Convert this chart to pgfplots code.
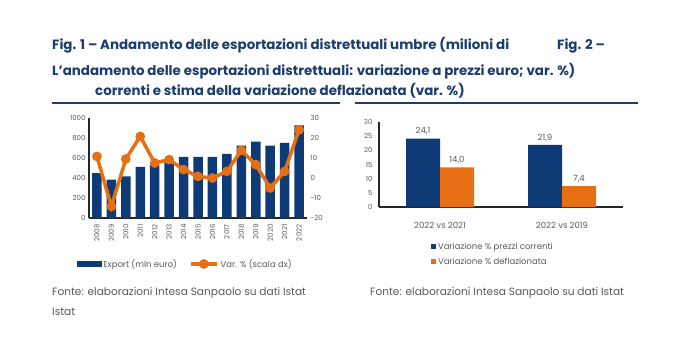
\documentclass[border=0pt]{standalone}
\usepackage{pgfplots}
\pgfplotsset{compat=1.18}
\usepackage{fontspec}
\setmainfont{Poppins}
\definecolor{navy}{HTML}{0E3B76}
\definecolor{ttl}{HTML}{1C3D6E}
\definecolor{org}{HTML}{E66F14}
\definecolor{gtxt}{HTML}{595959}
\begin{document}
\begin{tikzpicture}
\path (0pt,0pt) rectangle (700pt,351pt);
% titles
\begin{scope}[every node/.style={inner sep=0pt, text=ttl, font=\fontsize{13.4}{15}\selectfont\bfseries}]
\node[anchor=base west] at (52pt,301pt) {Fig. 1 – Andamento delle esportazioni distrettuali umbre (milioni di};
\node[anchor=base west] at (557pt,301pt) {Fig. 2 –};
\node[anchor=base west] at (52pt,275pt) {L'andamento delle esportazioni distrettuali: variazione a prezzi euro; var. \%)};
\node[anchor=base west] at (95pt,255pt) {correnti e stima della variazione deflazionata (var. \%)};
\end{scope}
\draw[ttl, line width=2pt] (52pt,248pt) -- (340pt,248pt);
\draw[ttl, line width=2pt] (355pt,248pt) -- (638pt,248pt);
% footers
\begin{scope}[every node/.style={inner sep=0pt, text=gtxt, font=\fontsize{10.6}{12}\selectfont}]
\node[anchor=base west] at (52pt,56pt) {Fonte: elaborazioni Intesa Sanpaolo su dati Istat};
\node[anchor=base west] at (52pt,36pt) {Istat};
\node[anchor=base west] at (370pt,56pt) {Fonte: elaborazioni Intesa Sanpaolo su dati Istat};
\end{scope}
% left chart: bars
\begin{axis}[at={(89pt,133pt)}, anchor=south west, scale only axis, width=218pt, height=100pt,
  xmin=-0.55, xmax=14.55, ymin=0, ymax=1000, ytick={0,200,...,1000},
  axis y line*=left, axis x line*=bottom,
  axis line style={line width=1.2pt, color=black!85, -},
  xtick={0,...,14}, xticklabels={2008,2009,2010,2011,2012,2013,2014,2015,2016,2017,2018,2019,2020,2021,2022},
  x tick label style={rotate=90, anchor=east, font=\fontsize{7}{8}\selectfont, text=gtxt, xshift=-3pt},
  y tick label style={font=\fontsize{7}{8}\selectfont, text=gtxt},
  /pgf/number format/assume math mode=true,
  /pgf/number format/1000 sep={},
  major tick length=0pt, ybar, bar width=9.5pt]
\addplot[fill=navy, draw=none] coordinates {(0,450) (1,383) (2,417) (3,510) (4,533) (5,567) (6,610) (7,610) (8,610) (9,640) (10,723) (11,763) (12,723) (13,750) (14,927)};
\end{axis}
% left chart: line
\begin{axis}[at={(89pt,133pt)}, anchor=south west, scale only axis, width=218pt, height=100pt,
  xmin=-0.55, xmax=14.55, ymin=-20, ymax=30, ytick={-20,-10,...,30},
  axis y line*=right, axis x line=none, y axis line style={draw=none},
  y tick label style={font=\fontsize{7}{8}\selectfont, text=gtxt},
  /pgf/number format/assume math mode=true,
  major tick length=0pt,
  legend columns=2,
  legend style={draw=none, fill=none, at={(axis description cs:-0.07,-0.46)}, anchor=west,
    font=\fontsize{8.5}{9}\selectfont, text=gtxt, /tikz/every even column/.append style={column sep=10pt}}]
\addlegendimage{legend image code/.code={\fill[navy] (0pt,-2.5pt) rectangle (24pt,2.5pt);}}
\addlegendentry{Export (mln euro)}
\addplot[org, line width=3.5pt, mark=*, mark size=3pt,
  legend image code/.code={\draw[org, line width=3.5pt] (0pt,0pt) -- (26pt,0pt); \fill[org] (13pt,0pt) circle (3pt);}]
  coordinates {(0,10.8) (1,-14.2) (2,9.5) (3,20.8) (4,7.5) (5,9.2) (6,4.2) (7,0.8) (8,0) (9,3.3) (10,13.8) (11,6.7) (12,-5) (13,3.3) (14,24.1)};
\addlegendentry{Var. \% (scala dx)}
\end{axis}
% right chart
\begin{axis}[at={(379pt,144pt)}, anchor=south west, scale only axis, width=244pt, height=85pt,
  xmin=-0.5, xmax=1.5, ymin=0, ymax=30, ytick={0,5,...,30},
  xtick={0,1}, xticklabels={2022 vs 2021, 2022 vs 2019},
  axis y line*=left, axis x line*=bottom,
  axis line style={line width=1.2pt, color=black!85, -},
  x tick label style={font=\fontsize{8.5}{9}\selectfont, text=gtxt, yshift=-12pt},
  y tick label style={font=\fontsize{7}{8}\selectfont, text=gtxt, xshift=-3pt},
  /pgf/number format/assume math mode=true,
  major tick length=0pt, ybar=0pt, bar width=34pt,
  nodes near coords, nodes near coords style={font=\fontsize{8.5}{9}\selectfont, text=gtxt, /pgf/number format/.cd, fixed, fixed zerofill, precision=1, use comma, assume math mode=true},
  legend cell align=left,
  legend style={draw=none, fill=none, at={(axis description cs:0.2,-0.37)}, anchor=north west,
    font=\fontsize{8.5}{9}\selectfont, text=gtxt, row sep=3pt},
  legend image code/.code={\fill[#1] (0pt,-2.5pt) rectangle (5pt,2.5pt);}]
\addplot[fill=navy, draw=none] coordinates {(0,24.1) (1,21.9)};
\addlegendentry{Variazione \% prezzi correnti}
\addplot[fill=org, draw=none] coordinates {(0,14.0) (1,7.4)};
\addlegendentry{Variazione \% deflazionata}
\end{axis}
\end{tikzpicture}
\end{document}
